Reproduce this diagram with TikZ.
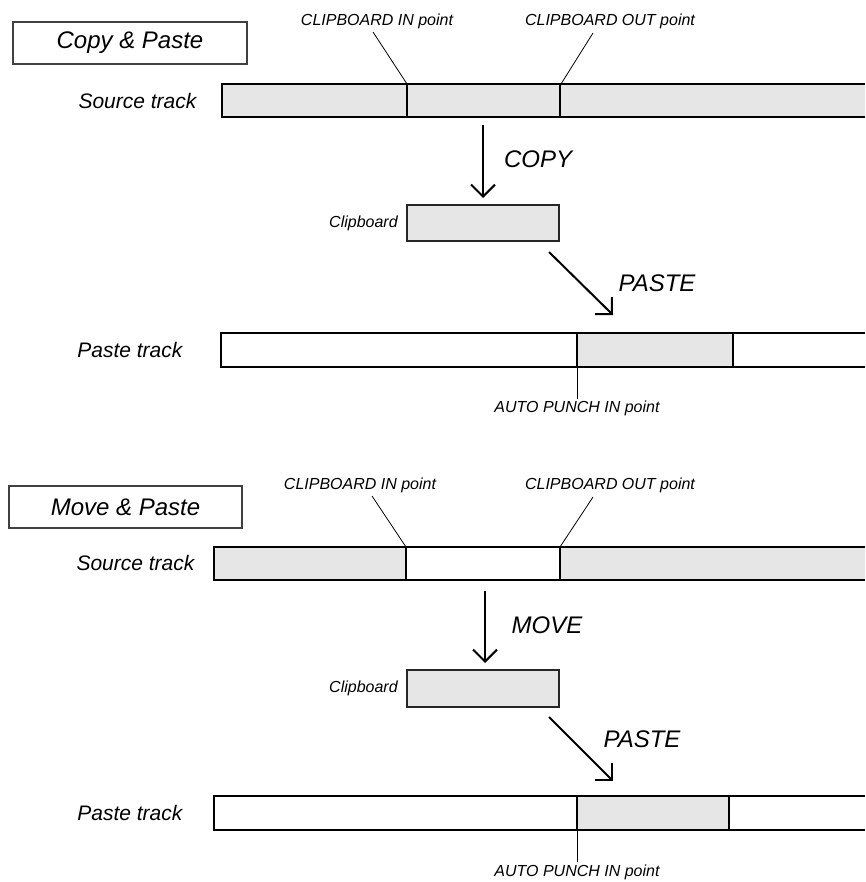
\documentclass[tikz,border=0pt]{standalone}
\usepackage{fontspec}
\setmainfont{Liberation Sans}
\usetikzlibrary{arrows.meta,positioning}
\definecolor{trackgray}{RGB}{230,230,230}

\begin{document}
\begin{tikzpicture}[x=1pt,y=-1pt,line width=1.2pt,
  lbl/.style={font=\fontsize{21}{24}\selectfont\itshape,inner sep=0pt},
  big/.style={font=\fontsize{24}{28}\selectfont\itshape,inner sep=0pt},
  small/.style={font=\fontsize{16}{18}\selectfont\itshape,inner sep=0pt},
  titlebox/.style={draw=black!75,line width=1.3pt,minimum height=42pt,font=\fontsize{24}{28}\selectfont\itshape},
  clipbox/.style={draw=black!85,fill=trackgray,line width=1.4pt,minimum width=152pt,inner sep=0pt},
  leader/.style={line width=0.8pt},
  flow/.style={line width=2pt,-{Straight Barb[length=12pt,width=24pt]}}]
\useasboundingbox (0,0) rectangle (865,882);
% ---------- Copy & Paste ----------
\begin{scope}[shift={(0,0)}]
  \node[titlebox,minimum width=234pt] (ctitle) at (130,43) {Copy \& Paste};
  \node[lbl,anchor=east] (csrclbl) at (197,101) {Source track};
  \fill[trackgray] (222,84) rectangle (865,117);
  \draw (865,84) -- (222,84) -- (222,117) -- (865,117);
  \foreach \x in {407,560}{ \draw (\x,84) -- (\x,117); }
  \coordinate (cin) at (407,84);  \coordinate (cinl) at (373,32);
  \coordinate (cout) at (561,84); \coordinate (coutl) at (593,33);
  \node[small] (cinlbl) at (377,21) {CLIPBOARD IN point};
  \node[small] (coutlbl) at (610,21) {CLIPBOARD OUT point};
  \draw[leader] (cinl) -- (cin);
  \draw[leader] (coutl) -- (cout);
  % copy into the clipboard
  \node[clipbox,minimum height=36pt] (cclip) at (483,223) {};
  \node[small,left=8pt of cclip] (ccliplbl) {Clipboard};
  \coordinate (ccopyA) at (483,125); \coordinate (ccopyB) at (483,198);
  \draw[flow] (ccopyA) -- (ccopyB);
  \node[big] (ccopy) at (538,159) {COPY};
  \coordinate (cpasteA) at (549,252); \coordinate (cpasteB) at (613,315);
  \draw[flow] (cpasteA) -- (cpasteB);
  \node[big] (cpaste) at (657,283) {PASTE};
  % paste track
  \node[lbl,anchor=east] (cdstlbl) at (183,350) {Paste track};
  \draw (865,333) -- (221,333) -- (221,367) -- (865,367);
  \draw[fill=trackgray,line width=1.4pt] (577,333) rectangle (733,367);
  \coordinate (cpunch) at (577,367); \coordinate (cpunchl) at (577,399);
  \draw[leader] (cpunch) -- (cpunchl);
  \node[small] (cpunchlbl) at (577,408) {AUTO PUNCH IN point};
\end{scope}
% ---------- Move & Paste ----------
\begin{scope}[shift={(0,464)}]
  \node[titlebox,minimum width=233pt] (mtitle) at (125.5,43) {Move \& Paste};
  \node[lbl,anchor=east] (msrclbl) at (195,99) {Source track};
  \fill[trackgray] (214,83) rectangle (406,116);
  \fill[trackgray] (560,83) rectangle (865,116);
  \draw (865,83) -- (214,83) -- (214,116) -- (865,116);
  \foreach \x in {406,560}{ \draw (\x,83) -- (\x,116); }
  \coordinate (min) at (406,83);  \coordinate (minl) at (372,32);
  \coordinate (mout) at (560,83); \coordinate (moutl) at (593,33);
  \node[small] (minlbl) at (360,21) {CLIPBOARD IN point};
  \node[small] (moutlbl) at (610,21) {CLIPBOARD OUT point};
  \draw[leader] (minl) -- (min);
  \draw[leader] (moutl) -- (mout);
  % move into the clipboard
  \node[clipbox,minimum height=37pt] (mclip) at (483,224.5) {};
  \node[small,left=8pt of mclip] (mcliplbl) {Clipboard};
  \coordinate (mmoveA) at (485,127); \coordinate (mmoveB) at (485,199);
  \draw[flow] (mmoveA) -- (mmoveB);
  \node[big] (mmove) at (547,161) {MOVE};
  \coordinate (mpasteA) at (549,253); \coordinate (mpasteB) at (613,317);
  \draw[flow] (mpasteA) -- (mpasteB);
  \node[big] (mpaste) at (642,275) {PASTE};
  % paste track
  \node[lbl,anchor=east] (mdstlbl) at (183,349) {Paste track};
  \draw (865,332) -- (214,332) -- (214,366) -- (865,366);
  \draw[fill=trackgray,line width=1.4pt] (577,332) rectangle (729,366);
  \coordinate (mpunch) at (577,366); \coordinate (mpunchl) at (577,398);
  \draw[leader] (mpunch) -- (mpunchl);
  \node[small] (mpunchlbl) at (577,408) {AUTO PUNCH IN point};
\end{scope}
\end{tikzpicture}
\end{document}
